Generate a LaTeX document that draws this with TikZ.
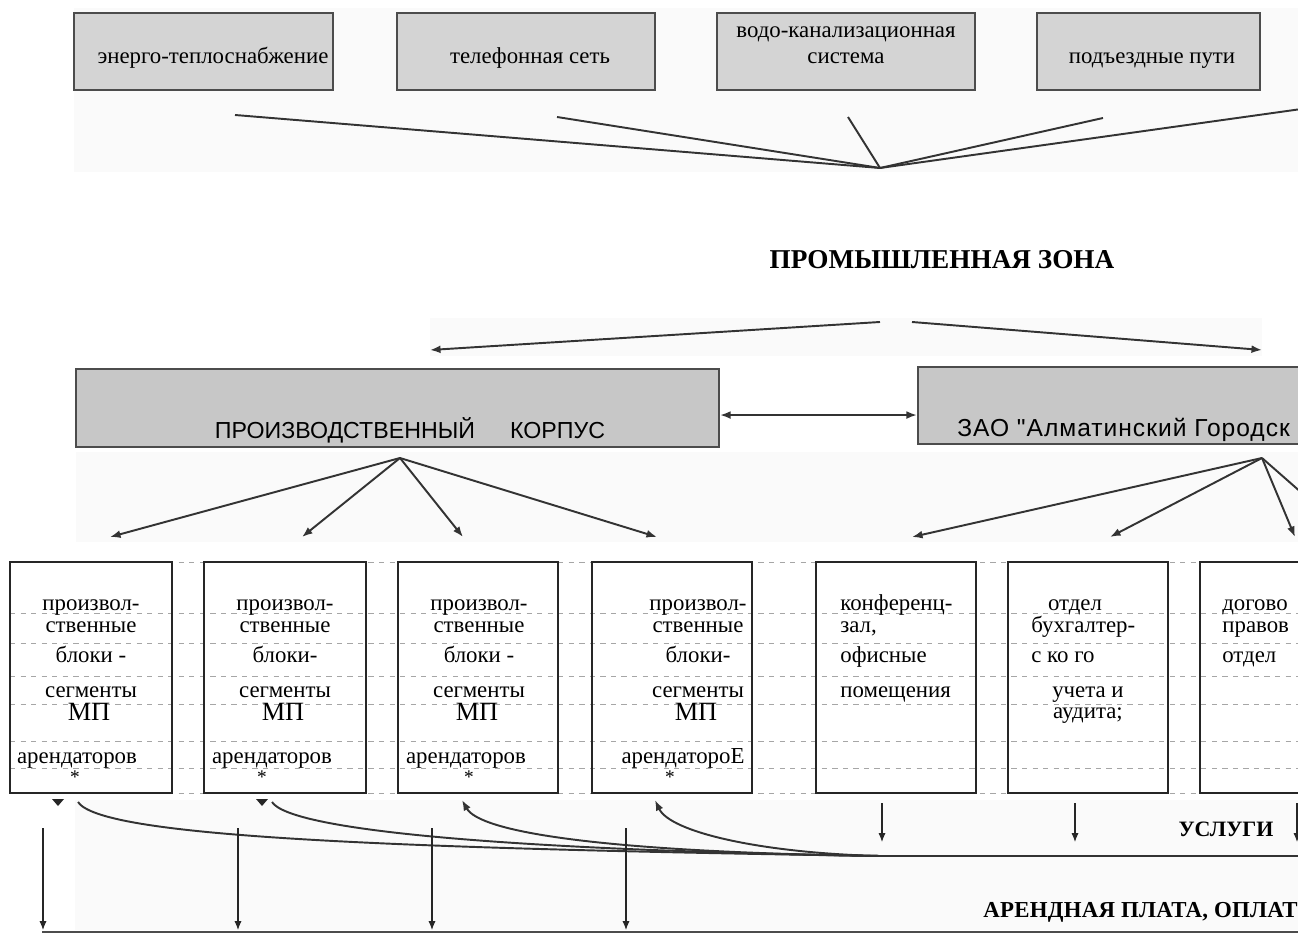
\documentclass[tikz,border=0pt]{standalone}
\usepackage{fontspec}
\setmainfont{Liberation Serif}
\newfontfamily\arialfont{Liberation Sans}
\newfontfamily\arialwide{Liberation Sans}[LetterSpace=4]
\newfontfamily\serifwide{Liberation Serif}[LetterSpace=1.2]
\usetikzlibrary{arrows.meta}

\begin{document}
\begin{tikzpicture}[x=0.02cm,y=-0.02cm,
  >={Latex[length=6pt,width=4.5pt]},
  topbox/.style={draw=black!70,line width=1.2pt,fill=black!17,minimum height=77*0.02cm,inner sep=0pt},
  toptext/.style={font=\fontsize{13}{15}\selectfont,align=center,inner sep=0pt,text height=1.5ex,text depth=.25ex},
  bigbox/.style={draw=black!70,line width=1.2pt,fill=black!22,minimum height=78*0.02cm,inner sep=0pt},
  bigtext/.style={font=\arialfont\fontsize{13.2}{15}\selectfont,inner sep=0pt},
  segbox/.style={draw=black!85,line width=0.9pt,minimum height=231*0.02cm,inner sep=0pt},
  cell/.style={font=\fontsize{13}{15}\selectfont,inner sep=0pt,text height=1.5ex,text depth=.25ex},
  rowline/.style={draw=black!35,dashed,line width=0.5pt},
  link/.style={draw=black!80,line width=1.1pt},
  flow/.style={draw=black!85,line width=0.6pt,>={Latex[length=5pt,width=4pt]}},
  caption/.style={font=\bfseries\fontsize{12.5}{14}\selectfont,inner sep=0pt}]
\useasboundingbox (0,0) rectangle (1298,935);
\clip (0,0) rectangle (1298,935);

\fill[black!2] (74,8) rectangle (1298,172);
\fill[black!2] (430,318) rectangle (1262,356);
\fill[black!2] (76,452) rectangle (1298,542);
\fill[black!2] (75,800) rectangle (1298,930);

\node[topbox,minimum width=259*0.02cm] (energy) at (203.5,51.5) {};
\node[topbox,minimum width=258*0.02cm] (phone) at (526,51.5) {};
\node[topbox,minimum width=258*0.02cm] (water) at (846,51.5) {};
\node[topbox,minimum width=223*0.02cm] (roads) at (1148.5,51.5) {};
\node[toptext] (energyT) at (213,58) {энерго-теплоснабжение};
\node[toptext] (phoneT) at (530,58) {телефонная сеть};
\node[toptext,text height=,text depth=] (waterT) at (846,45) {водо-канализационная\\система};
\node[toptext] (roadsT) at (1152,58) {подъездные пути};

\coordinate (hub) at (880,168);
\foreach \x/\y [count=\i] in {235/115,557/117,848/117,1103/118,1330/105}
  {\coordinate (feed\i) at (\x,\y);
   \draw[link] (hub) -- (feed\i);}

\node[font=\bfseries\fontsize{15.5}{18}\selectfont,inner sep=0pt] (zone) at (942,260) {ПРОМЫШЛЕННАЯ ЗОНА};
\coordinate (zoneL) at (880,322);
\coordinate (zoneR) at (912,322);
\coordinate (toKorpus) at (430,350);
\coordinate (toZao) at (1262,350);
\draw[link,->] (zoneL) -- (toKorpus);
\draw[link,->] (zoneR) -- (toZao);

\node[bigbox,minimum width=643*0.02cm] (korpus) at (397.5,408) {};
\node[bigtext] (korpusT) at (410,430) {ПРОИЗВОДСТВЕННЫЙ\hspace{20pt}КОРПУС};
\node[bigbox,minimum width=482*0.02cm,minimum height=77*0.02cm] (zao) at (1159,405.5) {};
\node[bigtext,font=\arialwide\fontsize{14}{16}\selectfont,anchor=west] (zaoT) at (957,430) {ЗАО "Алматинский Городск};
\draw[link,<->] ([yshift=-4pt]korpus.east) -- ([yshift=-4pt]korpus.east -| zao.west);

\coordinate (kfan) at (400,458);
\foreach \x [count=\i] in {110,302,463,657}
  {\coordinate (kend\i) at (\x,537);
   \draw[link,->] (kfan) -- (kend\i);}
\coordinate (zfan) at (1262,458);
\foreach \x [count=\i] in {912,1110,1295,1352}
  {\coordinate (zend\i) at (\x,537);
   \draw[link,->] (zfan) -- (zend\i);}

\foreach \y in {562,613,643,676,704,741,768,793}
  \draw[rowline] (10,\y) -- (1298,\y);

\foreach \x/\w [count=\i] in {91/162,285/162,478/160,672/160,896/160,1088/160,1280/160}
  \node[segbox,minimum width=\w*0.02cm] (seg\i) at (\x,677.5) {};

\foreach \x/\blk/\ax/\ar/\sx [count=\i] in {91/{блоки -}/77/арендаторов/75,
    285/блоки-/272/арендаторов/262,
    479/{блоки -}/466/арендаторов/469,
    698/блоки-/683/арендатороЕ/670}
  {\node[cell] (prod\i) at (\x,605) {произвол-};
   \node[cell] (stv\i) at (\x,627) {ственные};
   \node[cell] (blk\i) at (\x,657) {\blk};
   \node[cell] (sgm\i) at (\x,692) {сегменты};
   \node[cell,font=\fontsize{15}{17}\selectfont] (mp\i) at (\x-2,715) {МП};
   \node[cell] (ar\i) at (\ax,758) {\ar};
   \node[cell,font=\fontsize{11}{12}\selectfont] (star\i) at (\sx,778) {*};}

\node[cell,anchor=west] (conf1) at (840,605) {конференц-};
\node[cell,anchor=west] (conf2) at (840,627) {зал,};
\node[cell,anchor=west] (conf3) at (840,657) {офисные};
\node[cell,anchor=west] (conf4) at (840,692) {помещения};
\node[cell] (acc1) at (1075,605) {отдел};
\node[cell,anchor=west] (acc2) at (1031,627) {бухгалтер-};
\node[cell,anchor=west] (acc3) at (1031,657) {с ко го};
\node[cell] (acc4) at (1088,692) {учета и};
\node[cell] (acc5) at (1088,713) {аудита;};
\node[cell,anchor=west] (law1) at (1222,605) {догово};
\node[cell,anchor=west] (law2) at (1222,627) {правов};
\node[cell,anchor=west] (law3) at (1222,657) {отдел};

\coordinate (merge) at (880,856);
\coordinate (uslEnd) at (1298,856);
\coordinate (back1) at (78,802);
\coordinate (back2) at (272,802);
\coordinate (back3) at (462,800);
\coordinate (back4) at (655,800);
\draw[link] (merge) .. controls (350,848) and (100,835) .. (back1);
\draw[link] (merge) .. controls (500,850) and (290,830) .. (back2);
\draw[link,->] (merge) .. controls (600,852) and (480,832) .. (back3);
\draw[link,->] (merge) .. controls (760,853) and (670,832) .. (back4);
\draw[link] (merge) -- (uslEnd);
\fill[black!85] (52,799) -- (64,799) -- (58,806) -- cycle;
\fill[black!85] (256,799) -- (268,799) -- (262,806) -- cycle;

\foreach \x [count=\i from 5] in {882,1075,1297}
  {\coordinate (svc\i) at (\x,803);
   \coordinate (svd\i) at (\x,842);
   \draw[flow,->] (svc\i) -- (svd\i);}
\node[caption] (uslugi) at (1226,829) {УСЛУГИ};

\coordinate (payL) at (42,932);
\coordinate (payR) at (1298,932);
\draw[black!70,line width=1.4pt] (payL) -- (payR);
\foreach \x [count=\i] in {43,238,432,626}
  {\coordinate (pt\i) at (\x,828);
   \coordinate (pb\i) at (\x,930);
   \draw[flow,->] (pt\i) -- (pb\i);}
\node[caption,font=\serifwide\bfseries\fontsize{13}{15}\selectfont,anchor=west] (rent) at (983,912) {АРЕНДНАЯ ПЛАТА, ОПЛАТ};
\end{tikzpicture}
\end{document}
